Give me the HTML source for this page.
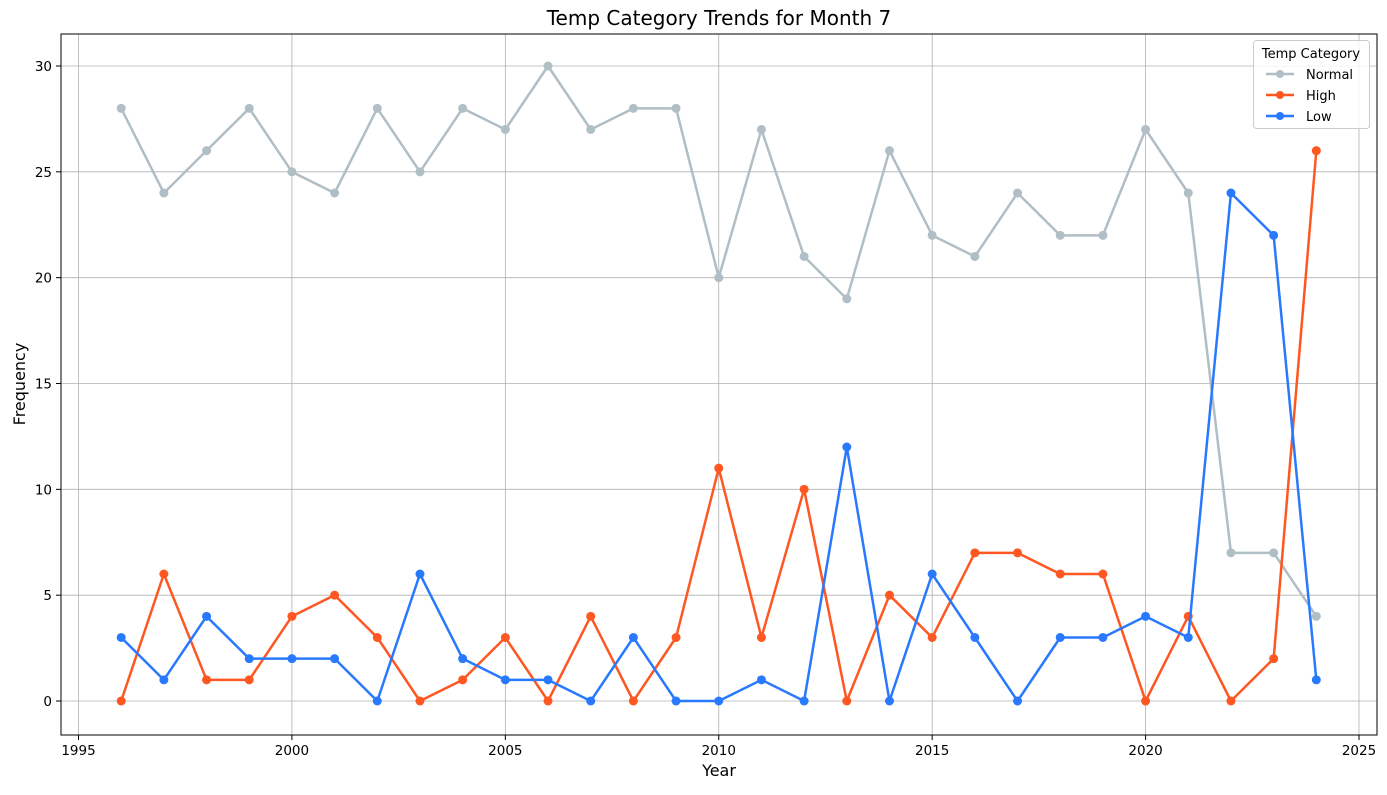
<!DOCTYPE html>
<html><head><meta charset="utf-8"><style>
body{margin:0;background:#fff;font-family:"Liberation Sans","DejaVu Sans",sans-serif}
svg text{font-family:"DejaVu Sans","Liberation Sans",sans-serif}
</style></head><body>
<svg id="chart" width="1387" height="790" xmlns="http://www.w3.org/2000/svg">
<rect width="1387" height="790" fill="#fff"/>
<g id="grid"></g>
<g id="series"></g>
<rect x="61" y="34" width="1316" height="701" fill="none" stroke="#000" stroke-width="1"/>
<g id="axes"></g>
<text x="719" y="25" text-anchor="middle" font-size="20">Temp Category Trends for Month 7</text>
<text x="719" y="776" text-anchor="middle" font-size="16">Year</text>
<text transform="translate(25,384) rotate(-90)" text-anchor="middle" font-size="16">Frequency</text>
<g>
<rect x="1253.5" y="40.5" width="116" height="88" rx="3" fill="#fff" fill-opacity="0.8" stroke="#ccc"/>
<text x="1311" y="58" text-anchor="middle" font-size="13">Temp Category</text>
<g><line x1="1266" y1="74" x2="1294" y2="74" stroke="#b0bec5" stroke-width="2.5"/><circle cx="1280" cy="74" r="4" fill="#b0bec5"/><text x="1306" y="79" font-size="13">Normal</text></g>
<g><line x1="1266" y1="95" x2="1294" y2="95" stroke="#ff5722" stroke-width="2.5"/><circle cx="1280" cy="95" r="4" fill="#ff5722"/><text x="1306" y="100" font-size="13">High</text></g>
<g><line x1="1266" y1="116" x2="1294" y2="116" stroke="#2979ff" stroke-width="2.5"/><circle cx="1280" cy="116" r="4" fill="#2979ff"/><text x="1306" y="121" font-size="13">Low</text></g>
</g>
</svg>
<script>
const years=[1996,1997,1998,1999,2000,2001,2002,2003,2004,2005,2006,2007,2008,2009,2010,2011,2012,2013,2014,2015,2016,2017,2018,2019,2020,2021,2022,2023,2024];
const normalVals=[28,24,26,28,25,24,28,25,28,27,30,27,28,28,20,27,21,19,26,22,21,24,22,22,27,24,7,7,4];
const highVals=[0,6,1,1,4,5,3,0,1,3,0,4,0,3,11,3,10,0,5,3,7,7,6,6,0,4,0,2,26];
const lowVals=[3,1,4,2,2,2,0,6,2,1,1,0,3,0,0,1,0,12,0,6,3,0,3,3,4,3,24,22,1];
const xTicks=[1995,2000,2005,2010,2015,2020,2025];
const yTicks=[0,5,10,15,20,25,30];
const NS="http://www.w3.org/2000/svg";
function xs(v){return 78.5+(v-1995)*(1359-78.5)/30;}
function ys(v){return 701-v*(701-66)/30;}
function mk(tag,attrs,parent){const e=document.createElementNS(NS,tag);for(const k in attrs)e.setAttribute(k,attrs[k]);parent.appendChild(e);return e;}
const grid=document.getElementById('grid'),axes=document.getElementById('axes'),ser=document.getElementById('series');
xTicks.forEach(t=>{const x=xs(t);
 const g=mk('line',{x1:x,x2:x,y1:34,y2:735,stroke:'#b0b0b0','stroke-width':0.8},grid);
 
 
 mk('line',{x1:x,x2:x,y1:735,y2:740,stroke:'#000'},axes);
 const l=mk('text',{x:x,y:755,'text-anchor':'middle','font-size':13.5},axes);l.textContent=t;
 
 });
yTicks.forEach(t=>{const y=ys(t);
 const g=mk('line',{x1:61,x2:1377,y1:y,y2:y,stroke:'#b0b0b0','stroke-width':0.8},grid);
 
 
 mk('line',{x1:56,x2:61,y1:y,y2:y,stroke:'#000'},axes);
 const l=mk('text',{x:52,y:y+5,'text-anchor':'end','font-size':13.5},axes);l.textContent=t;
 
 });
[[normalVals,'#b0bec5','normal'],[highVals,'#ff5722','high'],[lowVals,'#2979ff','low']].forEach(([vals,c,n])=>{
 const pts=vals.map((v,i)=>xs(years[i])+','+ys(v)).join(' ');
 const pl=mk('polyline',{points:pts,fill:'none',stroke:c,'stroke-width':2.5,'stroke-linejoin':'round'},ser);
 
 
 vals.forEach((v,i)=>{const p=mk('circle',{cx:xs(years[i]),cy:ys(v),r:4.5,fill:c},ser);
  
  });
});
</script>
</body></html>
